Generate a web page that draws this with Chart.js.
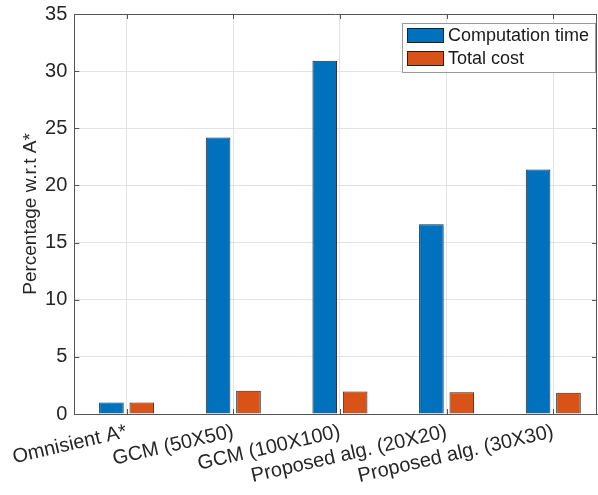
<!DOCTYPE html>
<html>
<head>
<meta charset="utf-8">
<script src="https://cdn.jsdelivr.net/npm/chart.js@4/dist/chart.umd.min.js"></script>
<style>
  html, body { margin: 0; padding: 0; background: #fff; }
  #wrap { width: 598px; height: 495px; }
</style>
</head>
<body>
<div id="wrap"><canvas id="chart" width="598" height="495"></canvas></div>
<script>
// categories and series
const categories = ['Omnisient A*', 'GCM (50X50)', 'GCM (100X100)', 'Proposed alg. (20X20)', 'Proposed alg. (30X30)'];
const computationTime = [1.0, 24.2, 30.9, 16.6, 21.4];
const totalCost = [1.0, 2.03, 1.97, 1.91, 1.86];
const yTicks = [0, 5, 10, 15, 20, 25, 30, 35];

const FONT = 'Liberation Sans, Arial, Helvetica, sans-serif';
const axisColor = '#555555';
const gridColor = '#e3e3e3';

// bars sit at x = 1..5 on a linear scale (matlab style axis limits)
const toPoints = vals => vals.map((v, i) => ({ x: i + 1, y: v }));

// draws the box, inner tick marks and the legend inside the axes
const matlabAxes = {
    id: 'matlabAxes',
    afterDraw(chart) {
        const ctx = chart.ctx;
        const { left, right, top, bottom } = chart.chartArea;
        const xs = chart.scales.x, ys = chart.scales.y;
        ctx.save();
        ctx.strokeStyle = axisColor;
        ctx.lineWidth = 1;
        ctx.beginPath();
        ctx.moveTo(left, top + 0.5); ctx.lineTo(right, top + 0.5);
        ctx.moveTo(right - 0.5, top); ctx.lineTo(right - 0.5, bottom);
        // tick marks pointing inward
        yTicks.forEach(v => {
            const y = Math.round(ys.getPixelForValue(v)) + 0.5;
            ctx.moveTo(left, y); ctx.lineTo(left + 5, y);
            ctx.moveTo(right, y); ctx.lineTo(right - 5, y);
        });
        categories.forEach((c, i) => {
            const x = Math.round(xs.getPixelForValue(i + 1)) + 0.5;
            ctx.moveTo(x, bottom); ctx.lineTo(x, bottom - 5);
            ctx.moveTo(x, top); ctx.lineTo(x, top + 5);
        });
        ctx.stroke();

        // legend
        const boxW = 193, boxH = 49;
        const bx = right - 2 - boxW, by = top + 9;
        ctx.fillStyle = '#fff';
        ctx.fillRect(bx, by, boxW, boxH);
        ctx.strokeStyle = '#9a9a9a';
        ctx.strokeRect(bx + 0.5, by + 0.5, boxW, boxH);
        ctx.font = '18px ' + FONT;
        ctx.textBaseline = 'middle';
        chart.data.datasets.forEach((ds, i) => {
            const sy = by + 5 + i * 23;
            ctx.fillStyle = ds.backgroundColor;
            ctx.fillRect(bx + 5, sy, 37, 15);
            ctx.strokeStyle = '#222';
            ctx.strokeRect(bx + 5.5, sy + 0.5, 36, 14);
            ctx.fillStyle = '#1a1a1a';
            ctx.fillText(ds.label, bx + 46, sy + 8);
        });
        ctx.restore();
    }
};

new Chart(document.getElementById('chart'), {
    type: 'bar',
    data: {
        datasets: [
            {
                label: 'Computation time',
                data: toPoints(computationTime),
                backgroundColor: '#0072BD',
                borderColor: '#262626',
                borderWidth: 1
            },
            {
                label: 'Total cost',
                data: toPoints(totalCost),
                backgroundColor: '#D95319',
                borderColor: '#262626',
                borderWidth: 1
            }
        ]
    },
    options: {
        responsive: false,
        animation: false,
        devicePixelRatio: 1,
        categoryPercentage: 0.57,
        barPercentage: 0.81,
        layout: { padding: { top: 14, right: 1, left: 0, bottom: 0 } },
        plugins: {
            legend: { display: false },
            tooltip: { enabled: false }
        },
        scales: {
            x: {
                type: 'linear',
                offset: false,
                min: 0.51,
                max: 5.41,
                afterBuildTicks: s => { s.ticks = categories.map((c, i) => ({ value: i + 1 })); },
                afterFit: s => { s.height = 81; },
                grid: { color: gridColor, drawTicks: false, offset: false },
                border: { color: axisColor },
                ticks: {
                    autoSkip: false,
                    minRotation: 13,
                    maxRotation: 13,
                    padding: 6,
                    color: '#262626',
                    font: { family: FONT, size: 20 },
                    callback: v => categories[Math.round(v) - 1]
                }
            },
            y: {
                min: 0,
                max: 35,
                afterBuildTicks: s => { s.ticks = yTicks.map(v => ({ value: v })); },
                afterFit: s => { s.width = 69; s.paddingTop = 0; s.paddingBottom = 0; },
                grid: { color: gridColor, drawTicks: false },
                border: { color: axisColor },
                ticks: {
                    padding: 7,
                    color: '#262626',
                    font: { family: FONT, size: 20 }
                },
                title: {
                    display: true,
                    text: 'Percentage w.r.t A*',
                    color: '#262626',
                    font: { family: FONT, size: 19 },
                    padding: { top: 14, bottom: 0 }
                }
            }
        }
    },
    plugins: [matlabAxes]
});
</script>
</body>
</html>
